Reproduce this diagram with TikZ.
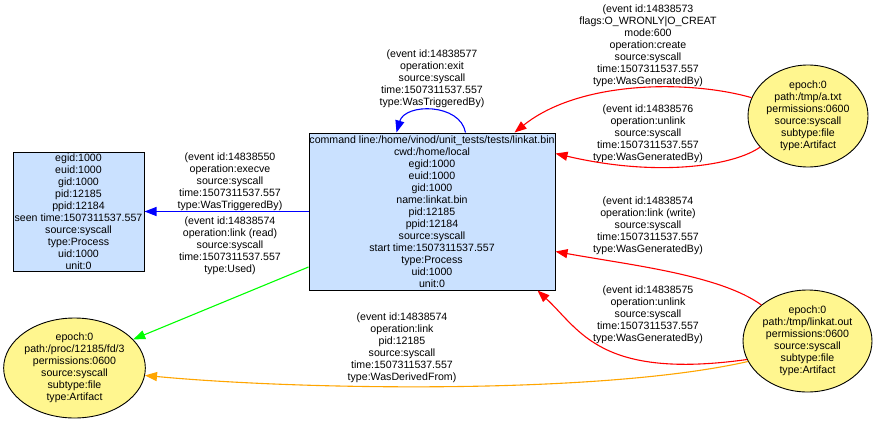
\documentclass[tikz,border=0pt]{standalone}
\usepackage{fontspec}
\setmainfont{Liberation Sans}
\usetikzlibrary{arrows.meta,shapes.geometric,calc}
\definecolor{boxfill}{HTML}{CAE1FF}
\definecolor{artfill}{HTML}{FFF68F}
\definecolor{edgeorange}{HTML}{FFA500}
\tikzset{
  txt/.style={font=\fontsize{10.6}{12}\selectfont, align=center, inner sep=0pt},
  procbox/.style={txt, draw=black, line width=1pt, fill=boxfill, rectangle},
  artifact/.style={txt, draw=black, line width=0.9pt, fill=artfill, ellipse},
  lbl/.style={txt},
  edge/.style={line width=1.1pt, -{Triangle[length=12pt,width=9pt]}},
}
\begin{document}
\begin{tikzpicture}[x=1pt,y=-1pt]
\useasboundingbox (0,0) rectangle (877,423);

% nodes
\node[procbox, minimum width=131pt, minimum height=119pt] (l) at (78.5,211.5)
  {egid:1000\\euid:1000\\gid:1000\\pid:12185\\ppid:12184\\seen time:1507311537.557\\source:syscall\\type:Process\\uid:1000\\unit:0};
\node[procbox, minimum width=246pt, minimum height=157pt] (c) at (432,211.5)
  {command line:/home/vinod/unit\_tests/tests/linkat.bin\\cwd:/home/local\\egid:1000\\euid:1000\\gid:1000\\name:linkat.bin\\pid:12185\\ppid:12184\\source:syscall\\start time:1507311537.557\\type:Process\\uid:1000\\unit:0};
\node[artifact, minimum width=120pt, minimum height=102pt] (a) at (808,116)
  {epoch:0\\path:/tmp/a.txt\\permissions:0600\\source:syscall\\subtype:file\\type:Artifact};
\node[artifact, minimum width=129pt, minimum height=102pt] (o) at (807.5,341)
  {epoch:0\\path:/tmp/linkat.out\\permissions:0600\\source:syscall\\subtype:file\\type:Artifact};
\node[artifact, minimum width=137pt, minimum height=100pt] (p) at (74.5,368)
  {epoch:0\\path:/proc/12185/fd/3\\permissions:0600\\source:syscall\\subtype:file\\type:Artifact};

% labels
\node[lbl] (lexit) at (432,79)
  {(event id:14838577\\operation:exit\\source:syscall\\time:1507311537.557\\type:WasTriggeredBy)};
\node[lbl] (lcreate) at (648,46)
  {(event id:14838573\\flags:O\_WRONLY|O\_CREAT\\mode:600\\operation:create\\source:syscall\\time:1507311537.557\\type:WasGeneratedBy)};
\node[lbl] (lunlinka) at (648,134)
  {(event id:14838576\\operation:unlink\\source:syscall\\time:1507311537.557\\type:WasGeneratedBy)};
\node[lbl] (lwrite) at (648,226)
  {(event id:14838574\\operation:link (write)\\source:syscall\\time:1507311537.557\\type:WasGeneratedBy)};
\node[lbl] (lunlinko) at (648,315)
  {(event id:14838575\\operation:unlink\\source:syscall\\time:1507311537.557\\type:WasGeneratedBy)};
\node[lbl] (lexec) at (230,181.5)
  {(event id:14838550\\operation:execve\\source:syscall\\time:1507311537.557\\type:WasTriggeredBy)};
\node[lbl] (lread) at (230,246)
  {(event id:14838574\\operation:link (read)\\source:syscall\\time:1507311537.557\\type:Used)};
\node[lbl] (lderiv) at (402,348)
  {(event id:14838574\\operation:link\\pid:12185\\source:syscall\\time:1507311537.557\\type:WasDerivedFrom)};

% edges
\draw[edge, blue] (c.west) -- (l.east);
\draw[edge, blue] ([xshift=157pt]c.north west) .. controls (460,103) and (405,103) .. ([xshift=88pt]c.north west);
\draw[edge, green] ([yshift=-55.5pt]c.west) -- (p.26);
\draw[edge, red] (a.162) .. controls (690,80) and (580,80) .. ([xshift=206pt]c.north west);
\draw[edge, red] (a.213) .. controls (735,165) and (660,178) .. ([yshift=-21pt]c.north east);
\draw[edge, red] (o.142) .. controls (720,275) and (630,265) .. ([yshift=39pt]c.south east);
\draw[edge, red] (o.197) .. controls (600,380) and (580,330) .. ([xshift=-18pt]c.south east);
\draw[edge, edgeorange] (o.199) .. controls (600,395) and (300,390) .. (p.-6);
\end{tikzpicture}
\end{document}
